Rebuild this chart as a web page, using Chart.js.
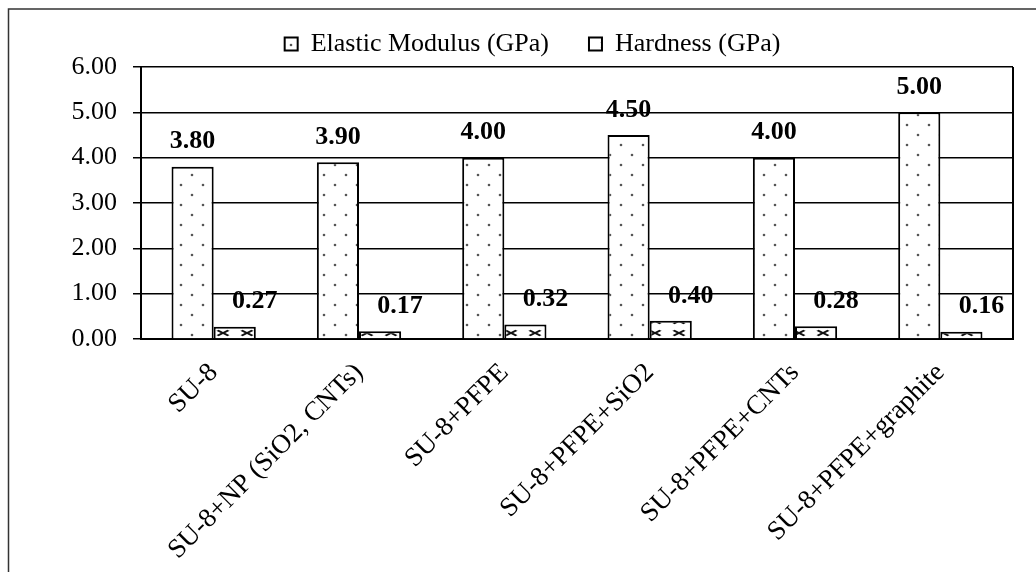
<!DOCTYPE html>
<html>
<head>
<meta charset="utf-8">
<script src="https://cdn.jsdelivr.net/npm/chart.js@4/dist/chart.umd.min.js"></script>
<style>
  html, body { margin: 0; padding: 0; background: #fff; }
  #wrap { width: 1036px; height: 572px; position: relative; }
</style>
</head>
<body>
<div id="wrap"><canvas id="c" width="1036" height="572"></canvas></div>
<script>
// Mechanical properties of SU-8 composites
const categories = [
  'SU-8',
  'SU-8+NP (SiO2, CNTs)',
  'SU-8+PFPE',
  'SU-8+PFPE+SiO2',
  'SU-8+PFPE+CNTs',
  'SU-8+PFPE+graphite'
];
const elasticModulus = [3.80, 3.90, 4.00, 4.50, 4.00, 5.00];
const hardness = [0.27, 0.17, 0.32, 0.40, 0.28, 0.16];
const seriesNames = ['Elastic Modulus (GPa)', 'Hardness (GPa)'];
const yTicks = [0, 1, 2, 3, 4, 5, 6];

const FONT = "'Liberation Serif', 'Times New Roman', serif";

// Fill patterns: dotted for modulus, sphere/cross for hardness
function dotPattern() {
  const t = document.createElement('canvas');
  t.width = 22; t.height = 20;
  const g = t.getContext('2d');
  g.fillStyle = '#fff';
  g.fillRect(0, 0, 22, 20);
  g.fillStyle = '#555';
  [[5, 5], [16, 15]].forEach(([x, y]) => {
    g.beginPath(); g.arc(x, y, 1.3, 0, Math.PI * 2); g.fill();
  });
  return g.createPattern(t, 'repeat');
}
function crossPattern() {
  const w = 24, h = 12;
  const t = document.createElement('canvas');
  t.width = w; t.height = h;
  const g = t.getContext('2d');
  g.fillStyle = '#fff';
  g.fillRect(0, 0, w, h);
  g.strokeStyle = '#111';
  g.lineWidth = 2;
  g.beginPath();
  g.moveTo(0, 0); g.lineTo(w, h);
  g.moveTo(w, 0); g.lineTo(0, h);
  g.stroke();
  g.fillStyle = '#fff';
  g.beginPath(); g.ellipse(w / 2, h / 2, 9, 5, 0, 0, Math.PI * 2); g.fill();
  const p = g.createPattern(t, 'repeat');
  if (p.setTransform) p.setTransform(new DOMMatrix().translate(7, 9));
  return p;
}

const ctx = document.getElementById('c').getContext('2d');

// Outer frame, white background and right edge of the plot box
const framePlugin = {
  id: 'frame',
  beforeDraw(chart) {
    const c = chart.ctx;
    c.save();
    c.fillStyle = '#fff';
    c.fillRect(0, 0, chart.width, chart.height);
    c.strokeStyle = '#333';
    c.lineWidth = 1.5;
    c.beginPath();
    c.moveTo(8.5, chart.height);
    c.lineTo(8.5, 9);
    c.lineTo(chart.width, 9);
    c.stroke();
    c.restore();
  },
  beforeDatasetsDraw(chart) {
    const a = chart.chartArea;
    const c = chart.ctx;
    c.save();
    c.strokeStyle = '#000';
    c.lineWidth = 2;
    c.beginPath();
    c.moveTo(a.right, a.top);
    c.lineTo(a.right, a.bottom);
    c.stroke();
    c.restore();
  }
};

// Value labels above each bar
const valueLabels = {
  id: 'valueLabels',
  afterDatasetsDraw(chart) {
    const c = chart.ctx;
    c.save();
    c.font = 'bold 26px ' + FONT;
    c.fillStyle = '#000';
    c.textAlign = 'center';
    c.textBaseline = 'middle';
    chart.data.datasets.forEach((ds, di) => {
      const meta = chart.getDatasetMeta(di);
      const dx = di === 0 ? 0 : 20;
      meta.data.forEach((el, i) => {
        c.fillText(ds.data[i].toFixed(2), el.x + dx, el.y - 25);
      });
    });
    c.restore();
  }
};

new Chart(ctx, {
  type: 'bar',
  data: {
    labels: categories,
    datasets: [
      {
        label: seriesNames[0],
        data: elasticModulus,
        backgroundColor: dotPattern(),
        borderColor: '#000',
        borderWidth: 2,
        categoryPercentage: 0.58,
        barPercentage: 1.0
      },
      {
        label: seriesNames[1],
        data: hardness,
        backgroundColor: crossPattern(),
        borderColor: '#000',
        borderWidth: 2,
        categoryPercentage: 0.58,
        barPercentage: 1.0
      }
    ]
  },
  options: {
    responsive: false,
    animation: false,
    devicePixelRatio: 1,
    layout: { padding: { top: -9, right: 23, bottom: 0, left: 52 } },
    plugins: {
      legend: {
        position: 'top',
        labels: {
          color: '#000',
          font: { family: FONT, size: 26 },
          boxWidth: 13,
          boxHeight: 13,
          padding: 40
        }
      },
      tooltip: { enabled: false }
    },
    scales: {
      x: {
        grid: { display: false, drawTicks: false },
        border: { display: true, color: '#000', width: 2 },
        ticks: {
          color: '#000',
          font: { family: FONT, size: 27 },
          minRotation: 45,
          maxRotation: 45,
          autoSkip: false,
          padding: 18
        },
        afterFit(scale) { scale.height = 233; }
      },
      y: {
        min: 0,
        max: 6,
        afterBuildTicks(scale) { scale.ticks = yTicks.map(v => ({ value: v })); },
        grid: { color: '#000', lineWidth: 1.5, tickLength: 8, drawTicks: true },
        border: { display: true, color: '#000', width: 2 },
        ticks: {
          color: '#000',
          font: { family: FONT, size: 26 },
          padding: 16,
          callback: v => Number(v).toFixed(2)
        },
        afterFit(scale) { scale.width = 89; }
      }
    }
  },
  plugins: [framePlugin, valueLabels]
});
</script>
</body>
</html>
